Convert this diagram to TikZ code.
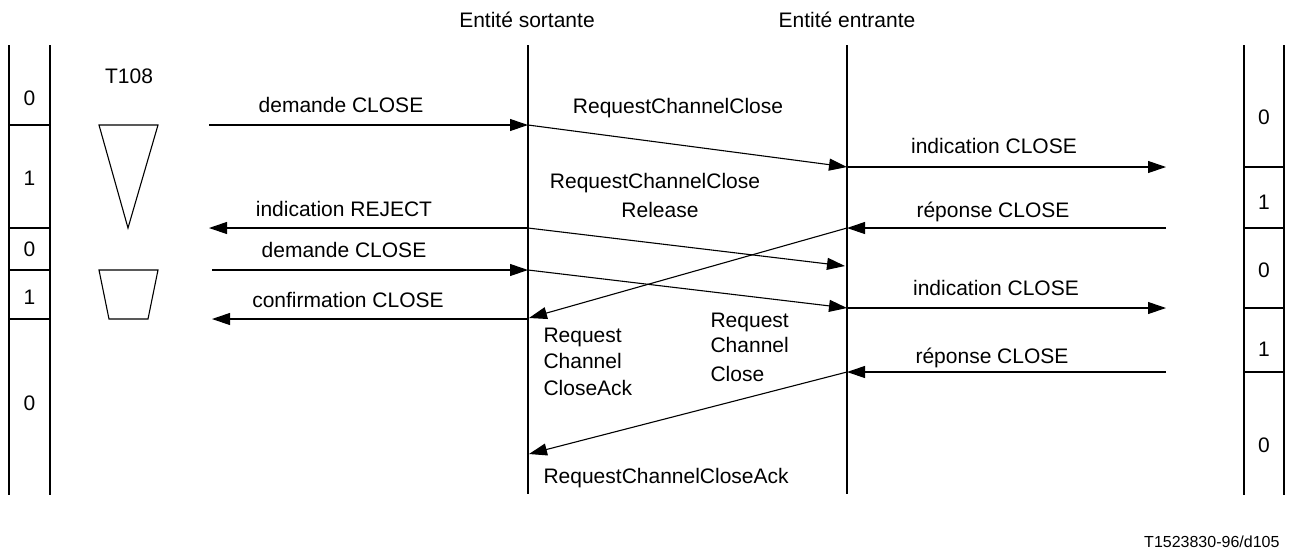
\documentclass[tikz,border=0pt]{standalone}
\usepackage{fontspec}
\setmainfont{Liberation Sans}
\usetikzlibrary{arrows.meta}
\begin{document}
\begin{tikzpicture}[x=1pt,y=-1pt,line width=1.1pt,
  font=\fontsize{21}{25}\selectfont,
  msg/.style={-{Triangle[length=18pt,width=12pt]}},
  lbl/.style={anchor=base,inner sep=0pt},
  lblw/.style={anchor=base west,inner sep=0pt},
  num/.style={inner sep=0pt},
  timer/.style={line width=1.1pt}]
\useasboundingbox (0,0) rectangle (1289,550);

% headers
\node[lbl] (hsort) at (527,27) {Entité sortante};
\node[lbl] (hentr) at (847,27) {Entité entrante};

% lifelines
\coordinate (sTop) at (528,45); \coordinate (sBot) at (528,494);
\coordinate (eTop) at (847,45); \coordinate (eBot) at (847,494);
\draw (sTop) -- (sBot);
\draw (eTop) -- (eBot);

% left state column
\draw (9,45) -- (9,495);
\draw (50,45) -- (50,495);
\foreach \yy in {125,228,270,319} \draw (9,\yy) -- (50,\yy);
\node[num] (l0a) at (29.5,98) {0};
\node[num] (l1a) at (29.5,178) {1};
\node[num] (l0b) at (29.5,249) {0};
\node[num] (l1b) at (29.5,297) {1};
\node[num] (l0c) at (29.5,403) {0};

% right state column
\draw (1244,45) -- (1244,495);
\draw (1284,45) -- (1284,495);
\foreach \yy in {167,228,308,372} \draw (1244,\yy) -- (1284,\yy);
\node[num] (r0a) at (1264,117) {0};
\node[num] (r1a) at (1264,202) {1};
\node[num] (r0b) at (1264,270) {0};
\node[num] (r1b) at (1264,349) {1};
\node[num] (r0c) at (1264,445) {0};

% timer T108
\node[lbl] (t108) at (129,83) {T108};
\draw[timer] (99,125) -- (158,125) -- (128,228) -- cycle;
\draw[timer] (99,270) -- (158,270) -- (148,319) -- (109,319) -- cycle;

% endpoints
\coordinate (uL1) at (209,125); \coordinate (s1) at (528,125);
\coordinate (uL2) at (209,228); \coordinate (s2) at (528,228);
\coordinate (uL3) at (212,270); \coordinate (s3) at (528,270);
\coordinate (uL4) at (212,319); \coordinate (s4) at (528,319);
\coordinate (s4b) at (529,318);
\coordinate (s5) at (529,454);
\coordinate (e1) at (847,167); \coordinate (uR1) at (1166,167);
\coordinate (e2) at (847,228); \coordinate (uR2) at (1166,228);
\coordinate (e2b) at (845,266);
\coordinate (e3) at (847,308); \coordinate (uR3) at (1166,308);
\coordinate (e4) at (847,372); \coordinate (uR4) at (1166,372);

% left primitives
\draw[msg] (uL1) -- (s1);
\node[lbl] (m1) at (341,112) {demande CLOSE};
\draw[msg] (s2) -- (uL2);
\node[lbl] (m2) at (344,216) {indication REJECT};
\draw[msg] (uL3) -- (s3);
\node[lbl] (m3) at (344,257) {demande CLOSE};
\draw[msg] (s4) -- (uL4);
\node[lbl] (m4) at (348,307) {confirmation CLOSE};

% right primitives
\draw[msg] (e1) -- (uR1);
\node[lbl] (n1) at (994,153) {indication CLOSE};
\draw[msg] (uR2) -- (e2);
\node[lbl] (n2) at (993,217) {réponse CLOSE};
\draw[msg] (e3) -- (uR3);
\node[lbl] (n3) at (996,295) {indication CLOSE};
\draw[msg] (uR4) -- (e4);
\node[lbl] (n4) at (992,363) {réponse CLOSE};

% protocol messages
\draw[msg] (s1) -- (e1);
\node[lbl] (p1) at (678,113) {RequestChannelClose};
\draw[msg] (s2) -- (e2b);
\node[lbl] (p2a) at (655,188) {RequestChannelClose};
\node[lbl] (p2b) at (660,217) {Release};
\draw[msg] (e2) -- (s4b);
\draw[msg] (s3) -- (e3);
\draw[msg] (e4) -- (s5);
\node[lblw] (p3a) at (543,342) {Request};
\node[lblw] (p3b) at (543,368) {Channel};
\node[lblw] (p3c) at (543,395) {CloseAck};
\node[lblw] (p4a) at (710,327) {Request};
\node[lblw] (p4b) at (710,352) {Channel};
\node[lblw] (p4c) at (710,381) {Close};
\node[lblw] (p5) at (543,483) {RequestChannelCloseAck};

% reference
\node[anchor=base east,inner sep=0pt,font=\fontsize{16}{19}\selectfont] (ref) at (1280,547) {T1523830-96/d105};
\end{tikzpicture}
\end{document}
